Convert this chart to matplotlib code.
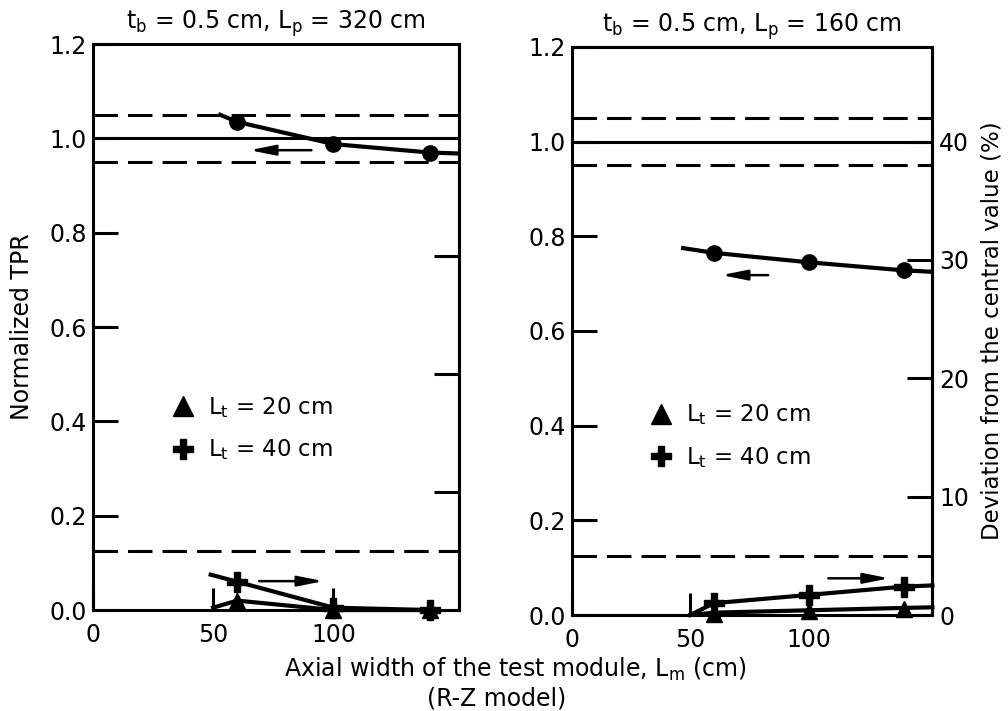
#Recreate the normalized TPR / deviation chart for two blanket configurations

import matplotlib.pyplot as plt
import matplotlib.lines as mlines

plt.rcParams['font.family'] = ['DejaVu Sans']

# Axial width of the test module, Lm (cm), at the data points
lm_points = [60, 100, 140]

# Panel titles
titles = [r't$_\mathrm{b}$ = 0.5 cm, L$_\mathrm{p}$ = 320 cm',
          r't$_\mathrm{b}$ = 0.5 cm, L$_\mathrm{p}$ = 160 cm']

# Normalized TPR (left axis)
tpr_points = [[1.035, 0.988, 0.970],
              [0.765, 0.745, 0.728]]
# the drawn curves run a bit past the points
tpr_curve_x = [[53, 60, 100, 140, 152],
               [47, 60, 100, 140, 152]]
tpr_curve_y = [[1.05, 1.035, 0.988, 0.970, 0.968],
               [0.775, 0.765, 0.745, 0.728, 0.725]]

# Deviation from the central value (%) (right axis)
dev20_points = [[0.8, 0.0, 0.0],
                [0.1, 0.3, 0.5]]
dev20_curve_x = [[50, 60, 100, 140],
                 [50, 60, 100, 140, 152]]
dev20_curve_y = [[0.2, 0.8, 0.0, 0.0],
                 [0.0, 0.2, 0.4, 0.6, 0.65]]
dev40_points = [[2.4, 0.2, 0.0],
                [1.0, 1.7, 2.4]]
dev40_curve_x = [[49, 60, 100, 140],
                 [50, 60, 100, 140, 152]]
dev40_curve_y = [[3.0, 2.4, 0.2, 0.0],
                 [0.0, 1.0, 1.7, 2.4, 2.5]]

# arrows telling which axis a curve belongs to: (x_from, x_to, y)
tpr_arrows = [(92, 64, 0.975), (84, 62, 0.718)]
dev_arrows = [(68, 97, 2.45), (107, 135, 3.1)]

legend_labels = [r'L$_\mathrm{t}$ = 20 cm', r'L$_\mathrm{t}$ = 40 cm']

fig = plt.figure(figsize=(10.08, 7.11), dpi=100)
positions = [[0.092, 0.142, 0.363, 0.796],
             [0.567, 0.135, 0.358, 0.799]]
legend_anchor = [(0.221, 0.32), (0.222, 0.315)]

lw = 2.2
for i in range(2):
    ax = fig.add_axes(positions[i])
    ax.set_xlim(0, 152)
    ax.set_ylim(0, 1.2)
    for s in ax.spines.values():
        s.set_linewidth(lw)
    ax.set_xticks([0, 50, 100])
    ax.set_yticks([0.0, 0.2, 0.4, 0.6, 0.8, 1.0, 1.2])
    ax.set_yticklabels(['%.1f' % v for v in ax.get_yticks()])
    ax.tick_params(axis='y', direction='in', length=18, width=lw, labelsize=17, pad=4)
    ax.tick_params(axis='x', direction='in', length=16, width=lw, labelsize=17, pad=9)

    # reference band lines
    ax.axhline(1.0, color='k', lw=lw)
    for yv in [1.05, 0.95, 0.125]:
        ax.axhline(yv, color='k', lw=lw, linestyle=(0, (8, 3.3)))

    ax.plot(tpr_curve_x[i], tpr_curve_y[i], color='k', lw=3)
    ax.plot(lm_points, tpr_points[i], 'o', color='k', ms=11)

    ax2 = ax.twinx()
    ax2.set_ylim(0, 48)
    ax2.spines['right'].set_linewidth(lw)
    ax2.set_yticks([0, 10, 20, 30, 40])
    ax2.tick_params(axis='y', direction='in', length=18, width=lw, labelsize=17, pad=5)
    if i == 0:
        ax2.set_yticklabels([])
    ax2.plot(dev20_curve_x[i], dev20_curve_y[i], color='k', lw=3, clip_on=False)
    ax2.plot(lm_points, dev20_points[i], '^', color='k', ms=12, clip_on=False)
    ax2.plot(dev40_curve_x[i], dev40_curve_y[i], color='k', lw=3, clip_on=False)
    ax2.plot(lm_points, dev40_points[i], 'P', color='k', ms=14, clip_on=False)

    x0, x1, ya = tpr_arrows[i]
    ax.annotate('', xy=(x1, ya), xytext=(x0, ya),
                arrowprops=dict(arrowstyle='-|>,head_length=1.1,head_width=0.22',
                                color='k', lw=1.8, mutation_scale=14))
    x0, x1, ya = dev_arrows[i]
    ax2.annotate('', xy=(x1, ya), xytext=(x0, ya),
                 arrowprops=dict(arrowstyle='-|>,head_length=1.1,head_width=0.22',
                                 color='k', lw=1.8, mutation_scale=14))

    handles = [mlines.Line2D([], [], color='k', marker='^', ls='none', ms=14),
               mlines.Line2D([], [], color='k', marker='P', ls='none', ms=14)]
    ax2.legend(handles, legend_labels, loc='center left', bbox_to_anchor=legend_anchor[i],
               frameon=False, fontsize=16.5, handlelength=0.8, handletextpad=0.7,
               labelspacing=0.75, borderpad=0, borderaxespad=0)

    ax.set_title(titles[i], fontsize=17, pad=11)
    if i == 0:
        ax.set_ylabel('Normalized TPR', fontsize=17, labelpad=11)
    else:
        ax2.set_ylabel('Deviation from the central value (%)', fontsize=16.5, labelpad=8)

fig.text(0.511, 0.058, r'Axial width of the test module, L$_\mathrm{m}$ (cm)',
         ha='center', va='center', fontsize=17)
fig.text(0.493, 0.018, '(R-Z model)', ha='center', va='center', fontsize=17)

plt.savefig('out.png', dpi=100)
